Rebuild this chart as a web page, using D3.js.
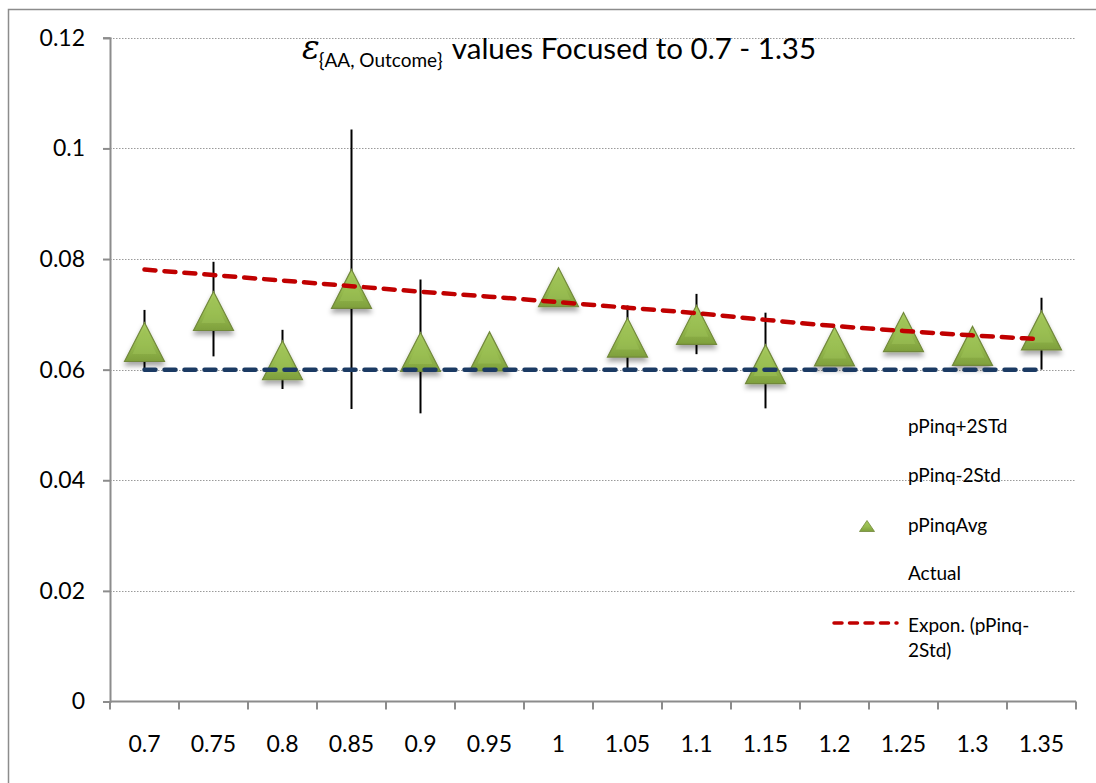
<!DOCTYPE html>
<html>
<head>
<meta charset="utf-8">
<script src="https://cdn.jsdelivr.net/npm/d3@7"></script>
<style>
  body { margin: 0; background: #fff; }
  svg text { font-family: Lato, "Open Sans", sans-serif; fill: #000; }
</style>
</head>
<body>
<svg class="chart" width="1096" height="783"></svg>
<script>
// Categories (x axis)
var categories = ["0.7", "0.75", "0.8", "0.85", "0.9", "0.95", "1", "1.05", "1.1", "1.15", "1.2", "1.25", "1.3", "1.35"];

// Series
var avgValues   = [0.0650, 0.0706, 0.0617, 0.0746, 0.0632, 0.0633, 0.0749, 0.0658, 0.0681, 0.0610, 0.0642, 0.0668, 0.0643, 0.0671];
var upperValues = [0.0708, 0.0795, 0.0672, 0.1034, 0.0763, 0.0655, 0.0768, 0.0716, 0.0737, 0.0703, 0.0660, 0.0688, 0.0662, 0.0730];
var lowerValues = [0.0603, 0.0624, 0.0565, 0.0529, 0.0521, 0.0615, 0.0730, 0.0602, 0.0628, 0.0530, 0.0625, 0.0650, 0.0625, 0.0600];
var actualValues = [0.06, 0.06, 0.06, 0.06, 0.06, 0.06, 0.06, 0.06, 0.06, 0.06, 0.06, 0.06, 0.06, 0.06];
// Exponential trendline, read at each category
var trendValues = [0.0781, 0.0771, 0.0761, 0.0751, 0.0741, 0.0732, 0.0722, 0.0712, 0.0702, 0.0690, 0.0679, 0.0670, 0.0662, 0.0655];

// Y ticks
var yTicks = [0, 0.02, 0.04, 0.06, 0.08, 0.1, 0.12];

// Legend labels
var legendLabels = ["pPinq+2STd", "pPinq-2Std", "pPinqAvg", "Actual", "Expon. (pPinq-|2Std)"];

var svg = d3.select("svg.chart");

// Scales
var x = d3.scaleBand()
    .domain(categories)
    .range([110, 1076])
    .padding(0);

var y = d3.scaleLinear()
    .domain([0, 0.12])
    .range([701.5, 37.8]);

var cx = function(i) { return x(categories[i]) + x.bandwidth() / 2; };

// Defs: gradient + shadow for the triangle markers
var defs = svg.append("defs");
var grad = defs.append("linearGradient")
    .attr("id", "triGrad")
    .attr("x1", 0).attr("y1", 0).attr("x2", 0).attr("y2", 1);
grad.append("stop").attr("offset", "0%").attr("stop-color", "#a9cc60");
grad.append("stop").attr("offset", "55%").attr("stop-color", "#96bb4f");
grad.append("stop").attr("offset", "100%").attr("stop-color", "#7e9f3c");

var shadow = defs.append("filter")
    .attr("id", "shadow")
    .attr("x", "-30%").attr("y", "-30%").attr("width", "160%").attr("height", "180%");
shadow.append("feDropShadow")
    .attr("dx", 0).attr("dy", 4)
    .attr("stdDeviation", 2.5)
    .attr("flood-color", "#000")
    .attr("flood-opacity", 0.35);

// Outer frame
svg.append("rect")
    .attr("x", 8.5).attr("y", 9.5)
    .attr("width", 1100).attr("height", 800)
    .attr("fill", "none")
    .attr("stroke", "#8c8c8c")
    .attr("stroke-width", 1.5);

// Gridlines
svg.append("g")
    .selectAll("line")
    .data(yTicks.filter(function(d) { return d > 0; }))
    .enter()
    .append("line")
    .attr("x1", 110).attr("x2", 1076)
    .attr("y1", function(d) { return Math.round(y(d)) + 0.5; })
    .attr("y2", function(d) { return Math.round(y(d)) + 0.5; })
    .attr("stroke", "#9a9a9a")
    .attr("stroke-width", 1)
    .attr("stroke-dasharray", "1.5,1.5");

// Y axis
var yAxis = d3.axisLeft(y)
    .tickValues(yTicks)
    .tickSize(7)
    .tickPadding(18)
    .tickFormat(function(d) { return d === 0 ? "0" : String(+d.toFixed(2)); });

var yg = svg.append("g")
    .attr("transform", "translate(110,0)")
    .call(yAxis);
yg.select(".domain").attr("stroke", "#8c8c8c").attr("stroke-width", 2);
yg.selectAll(".tick line").attr("stroke", "#8c8c8c").attr("stroke-width", 2);
yg.selectAll(".tick text")
    .style("font-size", "23px")
    .style("font-family", "Lato, sans-serif")
    .attr("fill", "#000");

// X axis (ticks at band boundaries)
var xg = svg.append("g");
xg.append("line")
    .attr("x1", 110).attr("x2", 1076)
    .attr("y1", y(0)).attr("y2", y(0))
    .attr("stroke", "#8c8c8c").attr("stroke-width", 2);
xg.selectAll("line.tick")
    .data(categories.concat(["end"]))
    .enter()
    .append("line")
    .attr("class", "tick")
    .attr("x1", function(d, i) { return i < categories.length ? x(d) : 1076; })
    .attr("x2", function(d, i) { return i < categories.length ? x(d) : 1076; })
    .attr("y1", y(0)).attr("y2", y(0) + 8)
    .attr("stroke", "#8c8c8c").attr("stroke-width", 2);
xg.selectAll("text")
    .data(categories)
    .enter()
    .append("text")
    .attr("x", function(d) { return x(d) + x.bandwidth() / 2; })
    .attr("y", 752)
    .attr("text-anchor", "middle")
    .style("font-size", "23px")
    .text(function(d) { return d; });

// Error bars (pPinq-2Std .. pPinq+2STd)
svg.append("g")
    .selectAll("line")
    .data(categories)
    .enter()
    .append("line")
    .attr("x1", function(d, i) { return cx(i); })
    .attr("x2", function(d, i) { return cx(i); })
    .attr("y1", function(d, i) { return y(upperValues[i]); })
    .attr("y2", function(d, i) { return y(lowerValues[i]); })
    .attr("stroke", "#000")
    .attr("stroke-width", 2);

// Triangle markers (pPinqAvg)
function triPath(w, h) {
    return "M0," + (-h / 2) + "L" + (w / 2) + "," + (h / 2) + "L" + (-w / 2) + "," + (h / 2) + "Z";
}

var tri = svg.append("g")
    .selectAll("g")
    .data(avgValues)
    .enter()
    .append("g")
    .attr("transform", function(d, i) { return "translate(" + cx(i) + "," + y(d) + ")"; });

tri.append("path")
    .attr("d", triPath(40, 39))
    .attr("fill", "url(#triGrad)")
    .attr("stroke", "#71883a")
    .attr("stroke-width", 1.2)
    .attr("filter", "url(#shadow)");
// inner bevel highlight
tri.append("path")
    .attr("d", "M0,-14L12,12L-12,12Z")
    .attr("fill", "#9cc156")
    .attr("opacity", 0.55);

// Actual line
var line = d3.line()
    .x(function(d, i) { return cx(i); })
    .y(function(d) { return y(d); });

svg.append("path")
    .datum(actualValues)
    .attr("d", line)
    .attr("fill", "none")
    .attr("stroke", "#1b3a63")
    .attr("stroke-width", 4.5)
    .attr("stroke-linecap", "round")
    .attr("stroke-dasharray", "11,9");

// Trendline
svg.append("path")
    .datum(trendValues)
    .attr("d", line.curve(d3.curveMonotoneX))
    .attr("fill", "none")
    .attr("stroke", "#c00000")
    .attr("stroke-width", 4.5)
    .attr("stroke-linecap", "round")
    .attr("stroke-dasharray", "11,9");

// Title
var title = svg.append("text")
    .attr("x", 302)
    .attr("y", 59);
title.append("tspan")
    .style("font-family", "'DejaVu Serif', serif")
    .style("font-style", "italic")
    .style("font-size", "33px")
    .text("ε");
title.append("tspan")
    .attr("dy", 8)
    .attr("dx", -1)
    .style("font-size", "19px")
    .text("{AA, Outcome}");
title.append("tspan")
    .attr("dy", -8)
    .attr("dx", 9)
    .style("font-size", "29.5px")
    .text("values Focused to 0.7 - 1.35");

// Legend
var legendY = [433, 482, 532, 580, 632];
var legend = svg.append("g");

legendLabels.forEach(function(label, i) {
    var t = legend.append("text")
        .attr("x", 908)
        .attr("y", legendY[i])
        .style("font-size", "19px");
    label.split("|").forEach(function(part, j) {
        t.append("tspan")
            .attr("x", 908)
            .attr("dy", j === 0 ? 0 : 25)
            .text(part);
    });
});

legend.append("path")
    .attr("transform", "translate(867," + (legendY[2] - 6) + ")")
    .attr("d", triPath(15, 11))
    .attr("fill", "url(#triGrad)")
    .attr("stroke", "#71883a")
    .attr("stroke-width", 0.8);

legend.append("line")
    .attr("x1", 834).attr("x2", 897)
    .attr("y1", legendY[4] - 9).attr("y2", legendY[4] - 9)
    .attr("stroke", "#c00000")
    .attr("stroke-width", 3.5)
    .attr("stroke-linecap", "round")
    .attr("stroke-dasharray", "8,7.5");
</script>
</body>
</html>
